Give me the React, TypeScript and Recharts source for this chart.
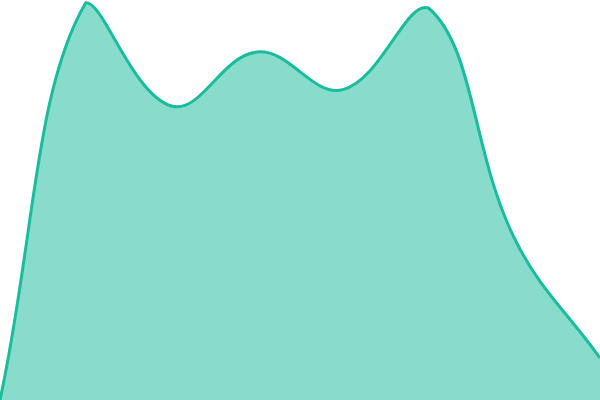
import { AreaChart, Area, XAxis, YAxis } from "recharts";

const categories = ["a", "b", "c", "d", "e", "f", "g", "h"];
const values = [0, 99.3, 73.5, 87, 77.6, 98, 40.5, 10.5];

const data = categories.map((c, i) => ({ name: c, value: values[i] }));

const W = 600;
const H = 400;

// spline with distance-weighted tangents (tension 0.4), control points kept in the plot box
function splineCurve(t: number) {
  return (ctx: any) => {
    let pts: [number, number][] = [];
    let line: number = NaN;
    const clamp = (v: number, lo: number, hi: number) => Math.max(lo, Math.min(hi, v));
    return {
      areaStart() {
        line = 0;
      },
      areaEnd() {
        line = NaN;
      },
      lineStart() {
        pts = [];
      },
      point(x: number, y: number) {
        pts.push([+x, +y]);
      },
      lineEnd() {
        const n = pts.length;
        if (n > 0) {
          const cps = pts.map((cur, i) => {
            const prev = pts[Math.max(0, i - 1)];
            const next = pts[Math.min(n - 1, i + 1)];
            const d01 = Math.hypot(cur[0] - prev[0], cur[1] - prev[1]);
            const d12 = Math.hypot(next[0] - cur[0], next[1] - cur[1]);
            let s01 = d01 / (d01 + d12);
            let s12 = d12 / (d01 + d12);
            if (isNaN(s01)) s01 = 0;
            if (isNaN(s12)) s12 = 0;
            const fa = t * s01;
            const fb = t * s12;
            const dx = next[0] - prev[0];
            const dy = next[1] - prev[1];
            return {
              p: [clamp(cur[0] - fa * dx, 0, W), clamp(cur[1] - fa * dy, 0, H)],
              n: [clamp(cur[0] + fb * dx, 0, W), clamp(cur[1] + fb * dy, 0, H)],
            };
          });
          if (line === 1) ctx.lineTo(pts[0][0], pts[0][1]);
          else ctx.moveTo(pts[0][0], pts[0][1]);
          for (let i = 0; i < n - 1; i++) {
            const a = cps[i].n;
            const b = cps[i + 1].p;
            ctx.bezierCurveTo(a[0], a[1], b[0], b[1], pts[i + 1][0], pts[i + 1][1]);
          }
        }
        if (line === 1) ctx.closePath();
        line = 1 - line;
      },
    };
  };
}

const curve = splineCurve(0.4);

export default function App() {
  return (
    <div style={{ position: "absolute", top: 0, left: 0, width: W, height: H, overflow: "hidden" }}>
      <AreaChart
        width={W}
        height={H}
        data={data}
        margin={{ top: 0, right: 0, bottom: 0, left: 0 }}
        style={{ outline: "none" }}
        tabIndex={-1}
        accessibilityLayer={false}
      >
        <XAxis dataKey="name" hide />
        <YAxis hide domain={[0, 100]} />
        <Area
          type={curve as any}
          dataKey="value"
          stroke="#1abc9c"
          strokeWidth={3}
          fill="#1abc9c"
          fillOpacity={0.52}
          dot={false}
          activeDot={false}
          isAnimationActive={false}
        />
      </AreaChart>
    </div>
  );
}
